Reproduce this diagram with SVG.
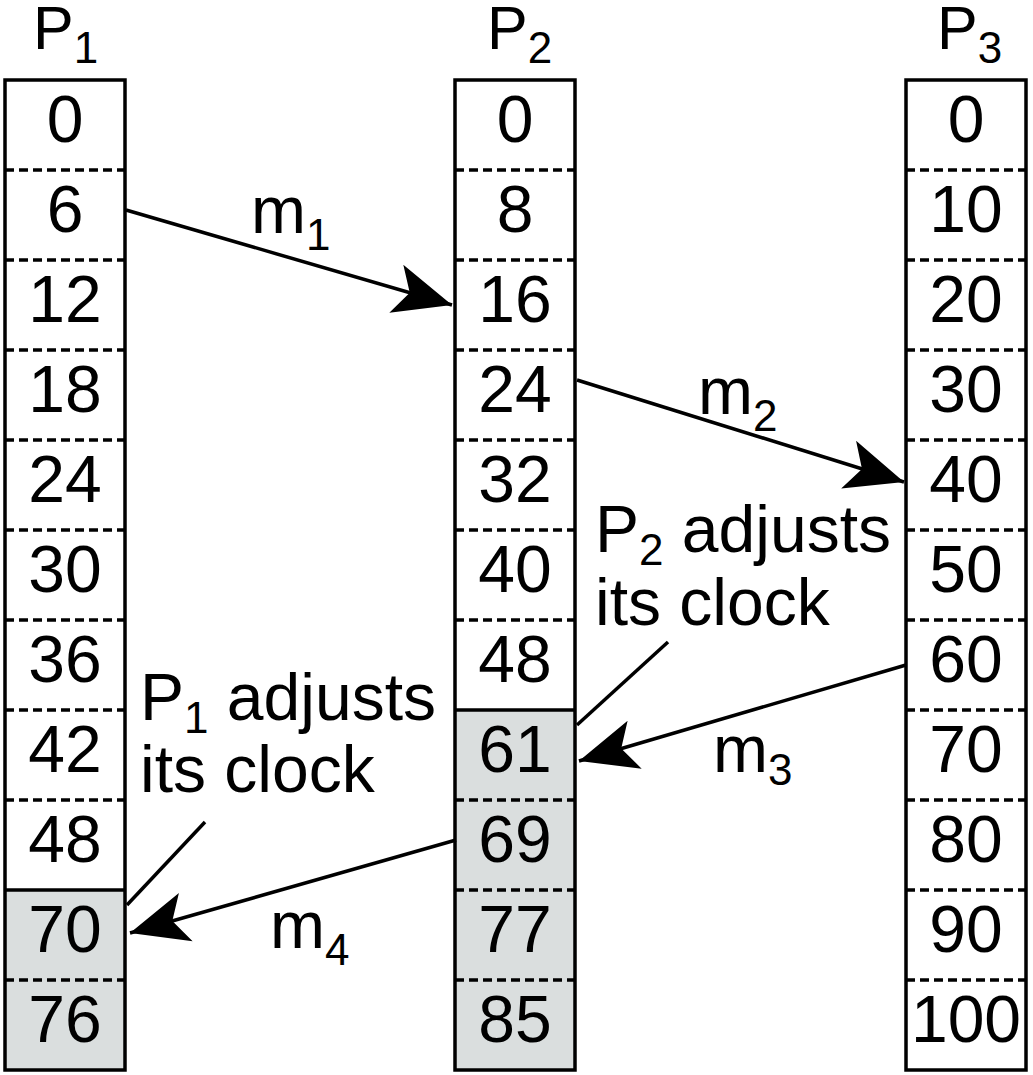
<svg xmlns="http://www.w3.org/2000/svg" width="1033" height="1075" viewBox="0 0 1033 1075">
<style>
.t{font-family:"Liberation Sans",Arial,sans-serif;font-size:66px;fill:#000}
.h{font-size:61px}
.c{text-anchor:middle}
.s{font-size:44px}
.box{fill:none;stroke:#000;stroke-width:3.5}
.dash{stroke:#000;stroke-width:3.5;stroke-dasharray:9 5}
.solid{stroke:#000;stroke-width:3.5}
.g{fill:#dadede}
.ln{stroke:#000;stroke-width:3.5;fill:none}
</style>
<defs>
<marker id="ah" markerUnits="userSpaceOnUse" viewBox="-60 -27 62 54" markerWidth="62" markerHeight="54" refX="0" refY="0" orient="auto">
<path d="M0,0 L-58,-25 L-44,0 L-58,25 Z" fill="#000"/>
</marker>
</defs>
<rect width="1033" height="1075" fill="#fff"/>

<g id="P1">
<text class="t h" x="33" y="49">P<tspan class="s" dy="14">1</tspan></text>
<rect class="g" x="5" y="890" width="120" height="180"/>
<g class="dash">
<line x1="5" y1="170" x2="125" y2="170"/><line x1="5" y1="260" x2="125" y2="260"/><line x1="5" y1="350" x2="125" y2="350"/><line x1="5" y1="440" x2="125" y2="440"/><line x1="5" y1="530" x2="125" y2="530"/><line x1="5" y1="620" x2="125" y2="620"/><line x1="5" y1="710" x2="125" y2="710"/><line x1="5" y1="800" x2="125" y2="800"/><line x1="5" y1="980" x2="125" y2="980"/>
</g>
<line class="solid" x1="5" y1="890" x2="125" y2="890"/>
<rect class="box" x="5" y="80" width="120" height="990"/>
<g class="t c">
<text x="65" y="142">0</text><text x="65" y="232">6</text><text x="65" y="322">12</text><text x="65" y="412">18</text><text x="65" y="502">24</text><text x="65" y="592">30</text><text x="65" y="682">36</text><text x="65" y="772">42</text><text x="65" y="862">48</text><text x="65" y="952">70</text><text x="65" y="1042">76</text>
</g>
</g>

<g id="P2">
<text class="t h" x="487" y="49">P<tspan class="s" dy="14">2</tspan></text>
<rect class="g" x="455" y="710" width="120" height="360"/>
<g class="dash">
<line x1="455" y1="170" x2="575" y2="170"/><line x1="455" y1="260" x2="575" y2="260"/><line x1="455" y1="350" x2="575" y2="350"/><line x1="455" y1="440" x2="575" y2="440"/><line x1="455" y1="530" x2="575" y2="530"/><line x1="455" y1="620" x2="575" y2="620"/><line x1="455" y1="800" x2="575" y2="800"/><line x1="455" y1="890" x2="575" y2="890"/><line x1="455" y1="980" x2="575" y2="980"/>
</g>
<line class="solid" x1="455" y1="710" x2="575" y2="710"/>
<rect class="box" x="455" y="80" width="120" height="990"/>
<g class="t c">
<text x="515" y="142">0</text><text x="515" y="232">8</text><text x="515" y="322">16</text><text x="515" y="412">24</text><text x="515" y="502">32</text><text x="515" y="592">40</text><text x="515" y="682">48</text><text x="515" y="772">61</text><text x="515" y="862">69</text><text x="515" y="952">77</text><text x="515" y="1042">85</text>
</g>
</g>

<g id="P3">
<text class="t h" x="937" y="49">P<tspan class="s" dy="14">3</tspan></text>
<g class="dash">
<line x1="906" y1="170" x2="1026" y2="170"/><line x1="906" y1="260" x2="1026" y2="260"/><line x1="906" y1="350" x2="1026" y2="350"/><line x1="906" y1="440" x2="1026" y2="440"/><line x1="906" y1="530" x2="1026" y2="530"/><line x1="906" y1="620" x2="1026" y2="620"/><line x1="906" y1="710" x2="1026" y2="710"/><line x1="906" y1="800" x2="1026" y2="800"/><line x1="906" y1="890" x2="1026" y2="890"/><line x1="906" y1="980" x2="1026" y2="980"/>
</g>
<rect class="box" x="906" y="80" width="120" height="990"/>
<g class="t c">
<text x="966" y="142">0</text><text x="966" y="232">10</text><text x="966" y="322">20</text><text x="966" y="412">30</text><text x="966" y="502">40</text><text x="966" y="592">50</text><text x="966" y="682">60</text><text x="966" y="772">70</text><text x="966" y="862">80</text><text x="966" y="952">90</text><text x="966" y="1042">100</text>
</g>
</g>

<g id="connectors">
<line class="ln" x1="126" y1="210" x2="452" y2="305" marker-end="url(#ah)"/>
<line class="ln" x1="577" y1="380" x2="904" y2="482" marker-end="url(#ah)"/>
<line class="ln" x1="906" y1="665" x2="579" y2="761" marker-end="url(#ah)"/>
<line class="ln" x1="456" y1="840" x2="130" y2="933" marker-end="url(#ah)"/>
<line class="ln" x1="668" y1="642" x2="577" y2="725"/>
<line class="ln" x1="205" y1="822" x2="127" y2="905"/>
</g>

<g id="labels">
<text class="t" x="251" y="233">m<tspan class="s" dy="17">1</tspan></text>
<text class="t" x="698" y="414">m<tspan class="s" dy="17">2</tspan></text>
<text class="t" x="713" y="772">m<tspan class="s" dy="13">3</tspan></text>
<text class="t" x="270" y="948">m<tspan class="s" dy="17">4</tspan></text>
<text class="t" x="595" y="552">P<tspan class="s" dy="13">2</tspan><tspan dy="-13"> adjusts</tspan></text>
<text class="t" x="595" y="625">its clock</text>
<text class="t" x="140" y="720">P<tspan class="s" dy="13">1</tspan><tspan dy="-13"> adjusts</tspan></text>
<text class="t" x="140" y="792">its clock</text>
</g>
</svg>
